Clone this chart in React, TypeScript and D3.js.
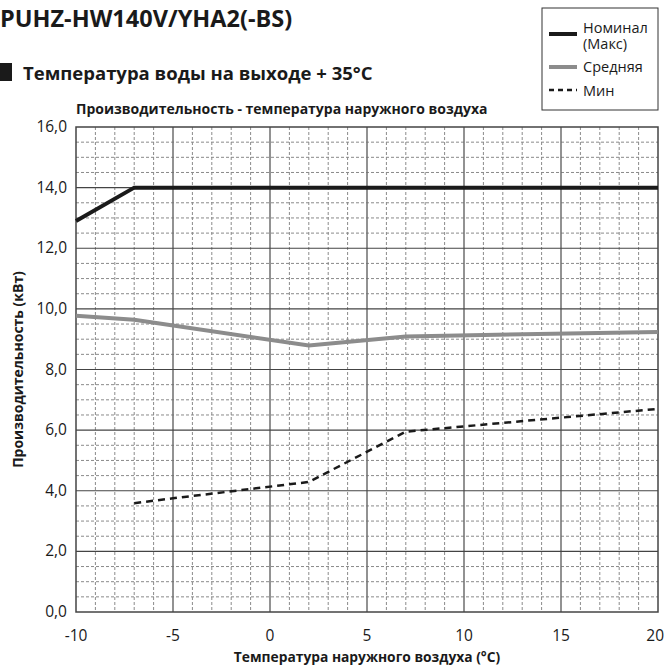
import React from "react";
import * as d3 from "d3";

const xTicks = [-10, -5, 0, 5, 10, 15, 20];
const yTicks = [0, 2, 4, 6, 8, 10, 12, 14, 16];
const yTickLabels = ["0,0", "2,0", "4,0", "6,0", "8,0", "10,0", "12,0", "14,0", "16,0"];

const nominalX = [-10, -7, 20];
const nominalY = [12.9, 14.0, 14.0];
const averageX = [-10, -7, 2, 7, 20];
const averageY = [9.77, 9.64, 8.79, 9.09, 9.24];
const minX = [-7, -5, 2, 7, 20];
const minY = [3.59, 3.75, 4.29, 5.95, 6.7];

const FONT = "'Open Sans', 'Noto Sans', sans-serif";

export default function App() {
  const W = 664, H = 669;
  const left = 76, right = 658, top = 127, bottom = 612;
  const x = d3.scaleLinear().domain([-10, 20]).range([left, right]);
  const y = d3.scaleLinear().domain([0, 16]).range([bottom, top]);
  const line = d3.line<[number, number]>().x(d => x(d[0])).y(d => y(d[1]));
  const zip = (a: number[], b: number[]) => a.map((v, i) => [v, b[i]] as [number, number]);

  const minorX = d3.range(-10, 20.001, 1).filter(v => v % 5 !== 0);
  const minorY = d3.range(0, 16.001, 0.5).filter(v => Math.abs(v % 2) > 1e-9);

  return (
    <svg width={W} height={H} style={{ position: "absolute", left: 0, top: 0, display: "block" }} fontFamily={FONT}>
      <rect width={W} height={H} fill="#fff" />
      <text x={0} y={27} fontSize={23.5} fontWeight={700} fill="#1a1a1a">PUHZ-HW140V/YHA2(-BS)</text>
      <rect x={-2} y={63} width={14} height={18} fill="#1a1a1a" />
      <text x={23} y={80} fontSize={18.5} fontWeight={700} fill="#1a1a1a">Температура воды на выходе + 35°C</text>
      <text x={76} y={114} fontSize={14} fontWeight={700} fill="#1a1a1a">Производительность - температура наружного воздуха</text>

      {/* minor grid */}
      {minorX.map(v => (
        <line key={"mx" + v} x1={x(v)} x2={x(v)} y1={top} y2={bottom} stroke="#8a8a8a" strokeWidth={1} strokeDasharray="3,2" />
      ))}
      {minorY.map(v => (
        <line key={"my" + v} x1={left} x2={right} y1={y(v)} y2={y(v)} stroke="#8a8a8a" strokeWidth={1} strokeDasharray="3,2" />
      ))}
      {/* major grid */}
      {xTicks.slice(1, -1).map(v => (
        <line key={"gx" + v} x1={x(v)} x2={x(v)} y1={top} y2={bottom} stroke="#6e6e6e" strokeWidth={1.5} />
      ))}
      {yTicks.slice(1, -1).map(v => (
        <line key={"gy" + v} x1={left} x2={right} y1={y(v)} y2={y(v)} stroke="#444" strokeWidth={1.2} />
      ))}
      <rect x={left} y={top} width={right - left} height={bottom - top} fill="none" stroke="#444" strokeWidth={1.5} />

      {/* series */}
      <path d={line(zip(averageX, averageY)) || ""} fill="none" stroke="#8c8c8c" strokeWidth={4} />
      <path d={line(zip(minX, minY)) || ""} fill="none" stroke="#1a1a1a" strokeWidth={2.5} strokeDasharray="7,5" />
      <path d={line(zip(nominalX, nominalY)) || ""} fill="none" stroke="#1a1a1a" strokeWidth={4} />

      {/* tick labels */}
      {yTicks.map((v, i) => (
        <text key={"yt" + v} x={left - 9} y={y(v) + 5} fontSize={15.5} textAnchor="end" fill="#1a1a1a">{yTickLabels[i]}</text>
      ))}
      {xTicks.map((v, i) => (
        <text key={"xt" + v} x={i === xTicks.length - 1 ? W : x(v)} y={641} fontSize={15.5}
          textAnchor={i === xTicks.length - 1 ? "end" : "middle"} fill="#1a1a1a">{v}</text>
      ))}
      <text x={367} y={662} fontSize={13.8} fontWeight={700} textAnchor="middle" fill="#1a1a1a">Температура наружного воздуха (°C)</text>
      <text transform={`translate(23,${(top + bottom) / 2}) rotate(-90)`} fontSize={14} fontWeight={700} textAnchor="middle" fill="#1a1a1a">Производительность (кВт)</text>

      {/* legend */}
      <rect x={542} y={8} width={116} height={102} fill="#fff" stroke="#333" strokeWidth={1} />
      <line x1={549} x2={577} y1={34} y2={34} stroke="#1a1a1a" strokeWidth={4} />
      <text x={583} y={33} fontSize={14.5} fill="#1a1a1a">Номинал</text>
      <text x={583} y={48.5} fontSize={14.5} fill="#1a1a1a">(Макс)</text>
      <line x1={549} x2={577} y1={67} y2={67} stroke="#8c8c8c" strokeWidth={4} />
      <text x={583} y={72} fontSize={14.5} fill="#1a1a1a">Средняя</text>
      <line x1={549} x2={577} y1={90} y2={90} stroke="#1a1a1a" strokeWidth={2.5} strokeDasharray="5,4" />
      <text x={583} y={96} fontSize={14.5} fill="#1a1a1a">Мин</text>
    </svg>
  );
}
